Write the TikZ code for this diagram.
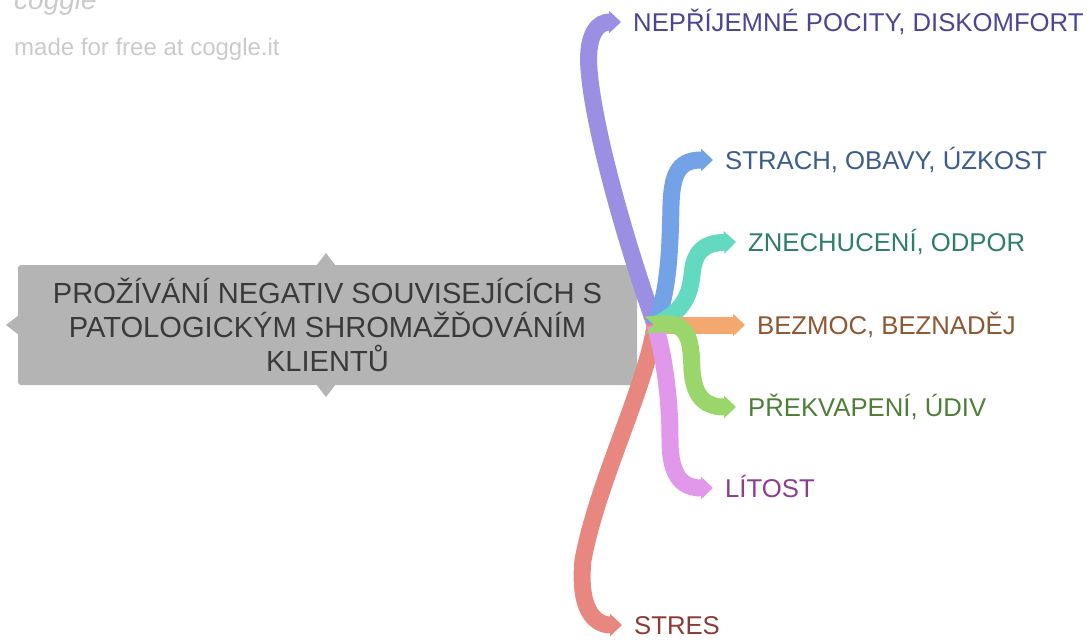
\documentclass[tikz,border=0pt]{standalone}
\usepackage{fontspec}
\setmainfont{Liberation Sans}
\usetikzlibrary{arrows.meta}

\definecolor{wmgray}{HTML}{CACACA}
\definecolor{boxgray}{HTML}{B4B4B4}
\definecolor{roottext}{HTML}{3A3A3A}
\definecolor{cpurple}{HTML}{9B8FE3}
\definecolor{tpurple}{HTML}{4B4596}
\definecolor{cblue}{HTML}{74A2E6}
\definecolor{tblue}{HTML}{3B5C8C}
\definecolor{cteal}{HTML}{63D9C0}
\definecolor{tteal}{HTML}{2F7D6B}
\definecolor{corange}{HTML}{F2A86F}
\definecolor{torange}{HTML}{8F5632}
\definecolor{cgreen}{HTML}{9AD66B}
\definecolor{tgreen}{HTML}{4E7E37}
\definecolor{cpink}{HTML}{E197EA}
\definecolor{tpink}{HTML}{8B3D8F}
\definecolor{csalmon}{HTML}{E8877F}
\definecolor{tsalmon}{HTML}{8A3B37}

\tikzset{
  branch/.style={line width=17pt, -{Triangle[length=12pt,width=22pt]}, draw=#1},
  leaf/.style={anchor=west, inner sep=0pt, text height=18pt, text depth=0pt,
    font=\fontsize{25.7}{30}\selectfont},
  rootbox/.style={fill=boxgray, text=roottext, rounded corners=3pt, inner sep=0pt,
    minimum width=619pt, minimum height=120pt, align=center,
    font=\fontsize{29.1}{34}\selectfont},
}

\begin{document}
\begin{tikzpicture}[x=1pt,y=-1pt]
\useasboundingbox (0,0) rectangle (1087,640);

% coggle watermark
\node[anchor=base west, inner sep=0pt, text=wmgray, font=\fontsize{28}{30}\selectfont\itshape] (logo) at (14,9) {coggle};
\node[anchor=base west, inner sep=0pt, text=wmgray, font=\fontsize{24}{28}\selectfont] (madefor) at (14,55) {made for free at coggle.it};

% central topic
\fill[boxgray] (316,266) -- (326,253) -- (336,266) -- cycle;
\fill[boxgray] (316,384) -- (326,397) -- (336,384) -- cycle;
\fill[boxgray] (19,315) -- (6,325) -- (19,335) -- cycle;
\node[rootbox] (root) at (327.5,325) {PROŽÍVÁNÍ NEGATIV SOUVISEJÍCÍCH S\\PATOLOGICKÝM SHROMAŽĎOVÁNÍM\\KLIENTŮ};
\coordinate (hub) at ([xshift=18pt]root.east);
\coordinate (tail) at ([xshift=8pt]root.east);

% leaves
\node[leaf, text=tpurple] (nepri) at (633,22) {NEPŘÍJEMNÉ POCITY, DISKOMFORT};
\node[leaf, text=tblue] (strach) at (725,160) {STRACH, OBAVY, ÚZKOST};
\node[leaf, text=tteal] (znech) at (748,242) {ZNECHUCENÍ, ODPOR};
\node[leaf, text=torange] (bezmoc) at (757,325) {BEZMOC, BEZNADĚJ};
\node[leaf, text=tgreen] (prekv) at (748,407) {PŘEKVAPENÍ, ÚDIV};
\node[leaf, text=tpink] (litost) at (725,488) {LÍTOST};
\node[leaf, text=tsalmon] (stres) at (634,625) {STRES};

% branches
\draw[branch=cpurple] (hub) .. controls (625,240) and (594,130) .. (589,70)
  .. controls (586,32) and (599,22) .. ([xshift=-12pt]nepri.west);
\draw[branch=cblue] (hub) .. controls (669,290) and (670,250) .. (671,205)
  .. controls (672,170) and (681,160) .. ([xshift=-12pt]strach.west);
\draw[branch=cteal] (hub) .. controls (683,312) and (690,295) .. (692,275)
  .. controls (694,252) and (703,243) .. ([xshift=-12pt]znech.west);
\draw[branch=corange] (hub) -- ([xshift=-12pt]bezmoc.west);
\draw[branch=csalmon] (hub) .. controls (645,390) and (598,480) .. (583,560)
  .. controls (578,610) and (595,625) .. ([xshift=-12pt]stres.west);
\draw[branch=cpink] (hub) .. controls (665,360) and (670,400) .. (670,440)
  .. controls (670,480) and (685,488) .. ([xshift=-12pt]litost.west);
\draw[branch=cgreen, {Triangle Cap[reversed]}-{Triangle[length=12pt,width=22pt]}] (tail)
  .. controls (691,322) and (691,345) .. (692,370)
  .. controls (694,400) and (708,407) .. ([xshift=-12pt]prekv.west);
\end{tikzpicture}
\end{document}
